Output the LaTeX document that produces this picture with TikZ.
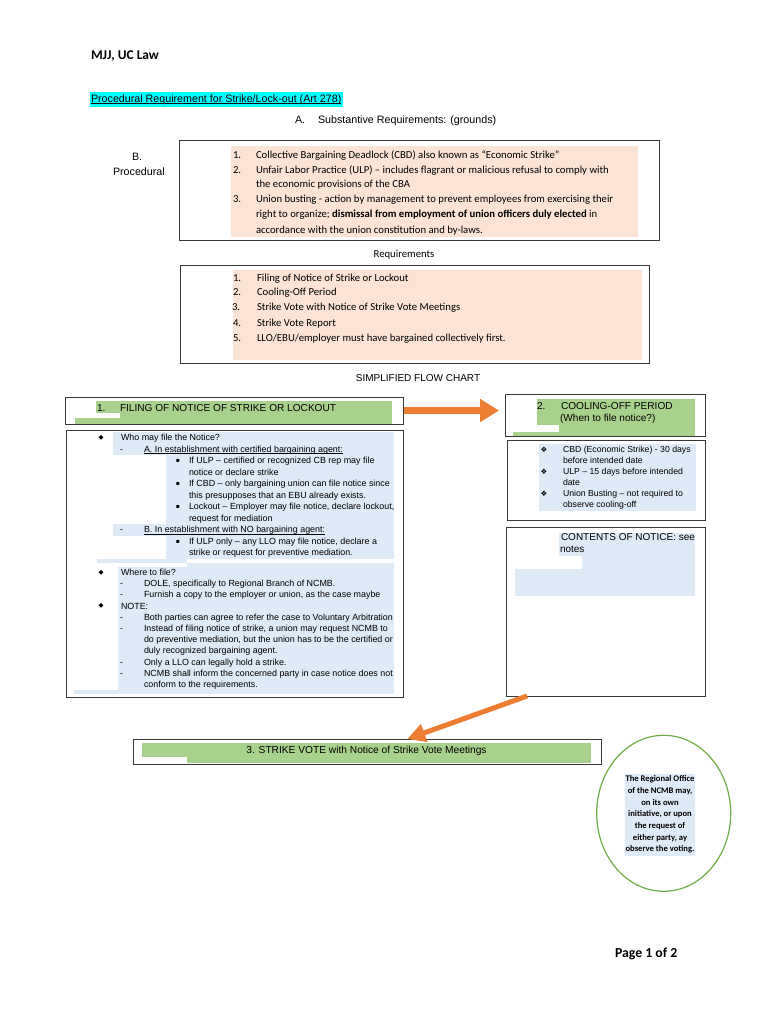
\documentclass[tikz,border=0pt]{standalone}
\usepackage{fontspec}
\setmainfont{Carlito}
\newfontfamily\arial{Liberation Sans}
\newfontfamily\djv{DejaVu Sans}
\usetikzlibrary{shapes.geometric,arrows.meta,calc}
\definecolor{salmon}{HTML}{FBE4D5}
\definecolor{hlgreen}{HTML}{A9D18E}
\definecolor{hlblue}{HTML}{DEEAF6}
\definecolor{hlcyan}{HTML}{00FFFF}
\definecolor{arrowor}{HTML}{ED7D31}
\definecolor{ellgreen}{HTML}{70AD47}
\newcounter{tlc}
\newcommand\putline[4][]{\stepcounter{tlc}\node[tx,#1] (t\thetlc) at (#2,#3) {#4};}
\newcommand\myul[1]{\setbox0\hbox{#1}\rlap{\rule[-1.6pt]{\wd0}{0.7pt}}\box0}
\newcommand\fsmall{\arial\fontsize{8.9}{10}\selectfont}
\newcommand\fhead{\arial\fontsize{10.1}{12}\selectfont}
\newcommand\fcal{\fontsize{10.7}{13}\selectfont}
\newcommand\farl{\arial\fontsize{10.7}{13}\selectfont}
\begin{document}
\begin{tikzpicture}[x=1pt,y=-1pt,
  tx/.style={anchor=base west,inner sep=0pt,outer sep=0pt},
  bx/.style={draw=black!78,line width=1pt,inner sep=0pt,outer sep=0pt,anchor=north west},
  bul/.style={anchor=center,inner sep=0pt,font=\djv\fontsize{6.5}{7}\selectfont},
  sq/.style={anchor=center,inner sep=0pt,font=\djv\fontsize{6}{7}\selectfont},
  bigarrow/.style={draw=arrowor,line width=7pt,-{Triangle[length=19pt,width=22pt]}},
  smallarrow/.style={draw=arrowor,line width=5pt,-{Triangle[length=18pt,width=18pt]}}]
\useasboundingbox (0,0) rectangle (768,1024);
\fill[white] (0,0) rectangle (768,1024);

% ---------- header ----------
\putline[font=\bfseries\fontsize{13.4}{15}\selectfont]{91}{59.3}{MJJ, UC Law}
\fill[hlcyan] (90,92.5) rectangle (343,107);
\putline[font=\farl]{91}{102.4}{\myul{Procedural Requirement for Strike/Lock-out (Art 278)}}
\putline[font=\farl]{295}{123.7}{A.}
\putline[font=\farl]{318}{123.7}{Substantive Requirements: (grounds)}
\putline[font=\farl]{132}{161}{B.}
\putline[font=\farl]{113}{176}{Procedural}

% ---------- grounds box ----------
\fill[salmon] (231,146) rectangle (638,237);
\node[bx,minimum width=480pt,minimum height=99pt] (B1) at (179,141) {};
\begin{scope}[font=\fcal]
\putline{233}{159}{1.}
\putline{256}{159}{Collective Bargaining Deadlock (CBD) also known as “Economic Strike”}
\putline{233}{173.5}{2.}
\putline{256}{173.5}{Unfair Labor Practice (ULP) – includes flagrant or malicious refusal to comply with}
\putline{256}{188}{the economic provisions of the CBA}
\putline{233}{203}{3.}
\putline{256}{203}{Union busting - action by management to prevent employees from exercising their}
\putline{256}{218}{right to organize; \textbf{dismissal from employment of union officers duly elected} in}
\putline{256}{233.5}{accordance with the union constitution and by-laws.}
\end{scope}

% ---------- requirements ----------
\node[font=\fcal,anchor=base,inner sep=0pt] (reqt) at (404,258) {Requirements};
\fill[salmon] (233,270) rectangle (642,360);
\node[bx,minimum width=469pt,minimum height=98pt] (B2) at (180,265) {};
\begin{scope}[font=\fcal]
\putline{233}{281}{1.}
\putline{257}{281}{Filing of Notice of Strike or Lockout}
\putline{233}{295.7}{2.}
\putline{257}{295.7}{Cooling-Off Period}
\putline{232}{310.7}{3.}
\putline{257}{310.7}{Strike Vote with Notice of Strike Vote Meetings}
\putline{233}{326.5}{4.}
\putline{257}{326.5}{Strike Vote Report}
\putline{233}{341.5}{5.}
\putline{257}{341.5}{LLO/EBU/employer must have bargained collectively first.}
\end{scope}

\node[font=\arial\fontsize{10}{12}\selectfont,anchor=base,inner sep=0pt] (sfc) at (418,381.6) {SIMPLIFIED FLOW CHART};

% ---------- box 1 : filing ----------
\fill[hlgreen] (96,401) rectangle (392,413);
\fill[hlgreen] (120,413) rectangle (392,418);
\fill[hlgreen] (75,418) rectangle (392,423.5);
\node[bx,minimum width=338pt,minimum height=27pt] (F1) at (65,397) {};
\putline[font=\fhead]{97}{411.3}{1.}
\putline[font=\fhead]{120}{411.3}{FILING OF NOTICE OF STRIKE OR LOCKOUT}

% ---------- box 2 : cooling-off ----------
\fill[hlgreen] (537,399) rectangle (695,425);
\fill[hlgreen] (559,425) rectangle (695,432);
\fill[hlgreen] (513,432) rectangle (695,436.5);
\node[bx,minimum width=200pt,minimum height=42.5pt] (F2) at (505,394.3) {};
\putline[font=\fhead]{537}{409.3}{2.}
\putline[font=\fhead]{561}{409.3}{COOLING-OFF PERIOD}
\putline[font=\fhead]{560}{421.3}{(When to file notice?)}

\draw[bigarrow,shorten <=1pt,shorten >=6pt] (F1.east) -- (F1.east -| F2.west);

% ---------- left big box ----------
\fill[hlblue] (113,432) rectangle (394,455.25);
\fill[hlblue] (166,455.25) rectangle (394,524.25);
\fill[hlblue] (113,524.25) rectangle (394,535.75);
\fill[hlblue] (166,535.75) rectangle (394,558.75);
\fill[hlblue] (97,558.75) rectangle (187,563);
\fill[hlblue] (187,563) rectangle (394,567);
\fill[hlblue] (118,567) rectangle (394,690);
\fill[hlblue] (74,690) rectangle (394,694);
\node[bx,minimum width=337pt,minimum height=267pt] (L1) at (66,430) {};
\begin{scope}[font=\fsmall]
\node[bul] (d1) at (101,438) {◆};
\putline{121}{440.7}{Who may file the Notice?}
\putline{120}{452.2}{-}
\putline{144}{452.2}{\myul{A. In establishment with certified bargaining agent:}}
\node[sq] (s1) at (178,461) {▪};
\putline{189}{463.7}{If ULP – certified or recognized CB rep may file}
\putline{189}{475.2}{notice or declare strike}
\node[sq] (s2) at (178,484) {▪};
\putline{189}{486.7}{If CBD – only bargaining union can file notice since}
\putline{189}{498.2}{this presupposes that an EBU already exists.}
\node[sq] (s3) at (178,507) {▪};
\putline{189}{509.7}{Lockout – Employer may file notice, declare lockout,}
\putline{189}{521.2}{request for mediation}
\putline{120}{532.7}{-}
\putline{144}{532.7}{\myul{B. In establishment with NO bargaining agent:}}
\node[sq] (s4) at (178,541.5) {▪};
\putline{189}{544.2}{If ULP only – any LLO may file notice, declare a}
\putline{189}{555.7}{strike or request for preventive mediation.}
\node[bul] (d2) at (101,572.7) {◆};
\putline{121}{575.4}{Where to file?}
\putline{120}{586.6}{-}
\putline{144}{586.6}{DOLE, specifically to Regional Branch of NCMB.}
\putline{120}{597.8}{-}
\putline{144}{597.8}{Furnish a copy to the employer or union, as the case maybe}
\node[bul] (d3) at (101,606.3) {◆};
\putline{121}{609}{NOTE:}
\putline{120}{620.2}{-}
\putline{144}{620.2}{Both parties can agree to refer the case to Voluntary Arbitration}
\putline{120}{631.4}{-}
\putline{144}{631.4}{Instead of filing notice of strike, a union may request NCMB to}
\putline{144}{642.6}{do preventive mediation, but the union has to be the certified or}
\putline{144}{653.8}{duly recognized bargaining agent.}
\putline{120}{665}{-}
\putline{144}{665}{Only a LLO can legally hold a strike.}
\putline{120}{676.2}{-}
\putline{144}{676.2}{NCMB shall inform the concerned party in case notice does not}
\putline{144}{687.4}{conform to the requirements.}
\end{scope}

% ---------- right box 1 ----------
\fill[hlblue] (539,444) rectangle (696,511);
\node[bx,minimum width=198pt,minimum height=80pt] (R1) at (507,440) {};
\begin{scope}[font=\arial\fontsize{8.7}{10}\selectfont]
\node[bul,font=\djv\fontsize{7.5}{8}\selectfont] (c1) at (544,450) {❖};
\putline{563}{452.6}{CBD (Economic Strike) - 30 days}
\putline{563}{463.6}{before intended date}
\node[bul,font=\djv\fontsize{7.5}{8}\selectfont] (c2) at (544,472) {❖};
\putline{563}{474.6}{ULP – 15 days before intended}
\putline{563}{485.6}{date}
\node[bul,font=\djv\fontsize{7.5}{8}\selectfont] (c3) at (544,494) {❖};
\putline{563}{496.6}{Union Busting – not required to}
\putline{563}{507.6}{observe cooling-off}
\end{scope}

% ---------- right box 2 ----------
\fill[hlblue] (559,533) rectangle (695,569);
\fill[white] (559,556) rectangle (582,569);
\fill[hlblue] (515,569) rectangle (695,596);
\node[bx,minimum width=199pt,minimum height=169pt] (R2) at (506,527) {};
\putline[font=\arial\fontsize{10}{12}\selectfont]{561}{540.6}{CONTENTS OF NOTICE: see}
\putline[font=\arial\fontsize{10}{12}\selectfont]{560}{552.3}{notes}

% ---------- strike vote ----------
\fill[hlgreen] (142,743) rectangle (591,757);
\fill[hlgreen] (187,757) rectangle (591,763);
\node[bx,minimum width=468pt,minimum height=25pt] (SV) at (133,739) {};
\node[font=\arial\fontsize{10.2}{12}\selectfont,anchor=base,inner sep=0pt] (svt) at (366.5,753.4) {3. STRIKE VOTE with Notice of Strike Vote Meetings};

\draw[smallarrow] ($(R2.south west)!0.106!(R2.south east)$) -- ($(SV.north west)!0.586!(SV.north east)$);

% ---------- ellipse ----------
\node[ellipse,draw=ellgreen,line width=1.2pt,minimum width=134pt,minimum height=156pt,inner sep=0pt] (E) at (663.7,813.3) {};
\fill[hlblue] (625,774) rectangle (695,856);
\node[font=\bfseries\fontsize{8.6}{11.7}\selectfont,align=center,inner sep=0pt] (et) at (660,814.5)
 {The Regional Office\\of the NCMB may,\\on its own\\initiative, or upon\\the request of\\either party, ay\\observe the voting.};

% ---------- footer ----------
\putline[font=\bfseries\fontsize{13.8}{16}\selectfont]{615}{957.4}{Page 1 of 2}
\end{tikzpicture}
\end{document}
